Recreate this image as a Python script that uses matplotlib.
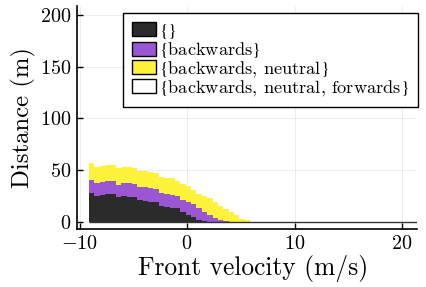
import numpy as np
import matplotlib
matplotlib.use("Agg")
import matplotlib.pyplot as plt
from matplotlib.patches import Patch

plt.rcParams['font.family'] = 'serif'
plt.rcParams['font.serif'] = ['cmr10']
plt.rcParams['mathtext.fontset'] = 'cm'
plt.rcParams['axes.formatter.use_mathtext'] = True

# Data: histogram bins (front velocity, m/s) and per-category distances (m)
bin_start = -9.13
bin_width = 0.5
x_end = 21.4

black_top = [28.1, 25.2, 25.9, 26.8, 26.8, 23.9, 24.6, 24.2, 23.9, 21.3,
             20.3, 19.4, 18.7, 15.2, 13.9, 13.6, 12.9, 9.1, 6.5, 4.6,
             2.0, 0.8, 0, 0, 0, 0, 0, 0, 0, 0]
purple_top = [40.7, 37.1, 38.1, 39.4, 39.4, 35.9, 37.1, 37.1, 36.2, 33.6,
              33.3, 32.6, 32.0, 27.8, 27.2, 25.9, 25.2, 21.3, 19.4, 16.8,
              12.9, 9.1, 6.5, 3.9, 1.3, 0.4, 0, 0, 0, 0]
yellow_top = [56.5, 52.6, 53.9, 54.9, 54.9, 52.3, 53.0, 52.6, 52.3, 49.1,
              48.8, 48.4, 47.5, 43.3, 42.6, 42.0, 39.4, 36.5, 34.2, 31.0,
              26.5, 24.6, 22.6, 19.4, 15.5, 12.3, 9.1, 6.5, 2.6, 1.5]

empty_set = np.array(black_top)
backwards = np.array(purple_top) - np.array(black_top)
back_neutral = np.array(yellow_top) - np.array(purple_top)
back_neutral_forwards = np.zeros(len(black_top))

labels = [r'$\{\}$', r'$\{$backwards$\}$', r'$\{$backwards, neutral$\}$',
          r'$\{$backwards, neutral, forwards$\}$']
colors = ['#2b2b2b', '#9b57d3', '#fff23a', '#ffffff']

xticks = [-10, 0, 10, 20]
yticks = [0, 50, 100, 150, 200]

fig = plt.figure(figsize=(4.27, 2.87), dpi=100)
ax = fig.add_axes([0.1796, 0.2021, 0.7974, 0.7770])

n = len(black_top)
edges = bin_start + bin_width * np.arange(n + 1)
series = [empty_set, backwards, back_neutral, back_neutral_forwards]
base = np.zeros(n)
for vals, c in zip(series, colors):
    top = base + vals
    ax.fill_between(edges, np.append(base, base[-1]), np.append(top, top[-1]),
                    step='post', color=c, linewidth=0, zorder=2)
    base = top

ax.hlines(0, edges[0], x_end, color='#333333', lw=1.0, zorder=3)

ax.set_xlim(-10.27, x_end)
ax.set_ylim(-7.1, 208.8)
ax.set_xticks(xticks)
ax.set_yticks(yticks)
ax.grid(True, color='black', alpha=0.1, lw=0.5)
ax.set_axisbelow(True)
for s in ['top', 'right']:
    ax.spines[s].set_visible(False)
for s in ['left', 'bottom']:
    ax.spines[s].set_linewidth(1.2)
ax.tick_params(direction='in', length=4.3, width=1.0, labelsize=14.5, pad=4)

ax.set_xlabel('Front velocity (m/s)', fontsize=18.3, labelpad=1)
ax.xaxis.set_label_coords(0.518, -0.115)
ax.set_ylabel('Distance (m)', fontsize=17.8, labelpad=3)

handles = [Patch(facecolor=c, edgecolor='black', linewidth=1.0) for c in colors]
leg = ax.legend(handles, labels, loc='upper right', bbox_to_anchor=(1.003, 0.97),
                borderaxespad=0, fontsize=13.2, frameon=True, fancybox=False,
                edgecolor='black', framealpha=1, labelspacing=-0.05,
                handlelength=1.3, handleheight=0.8, handletextpad=0.15,
                borderpad=0.5)
for t in leg.get_texts():
    t.set_math_fontfamily('stix')
leg.get_frame().set_linewidth(1.0)

fig.savefig('out.png', dpi=100)
